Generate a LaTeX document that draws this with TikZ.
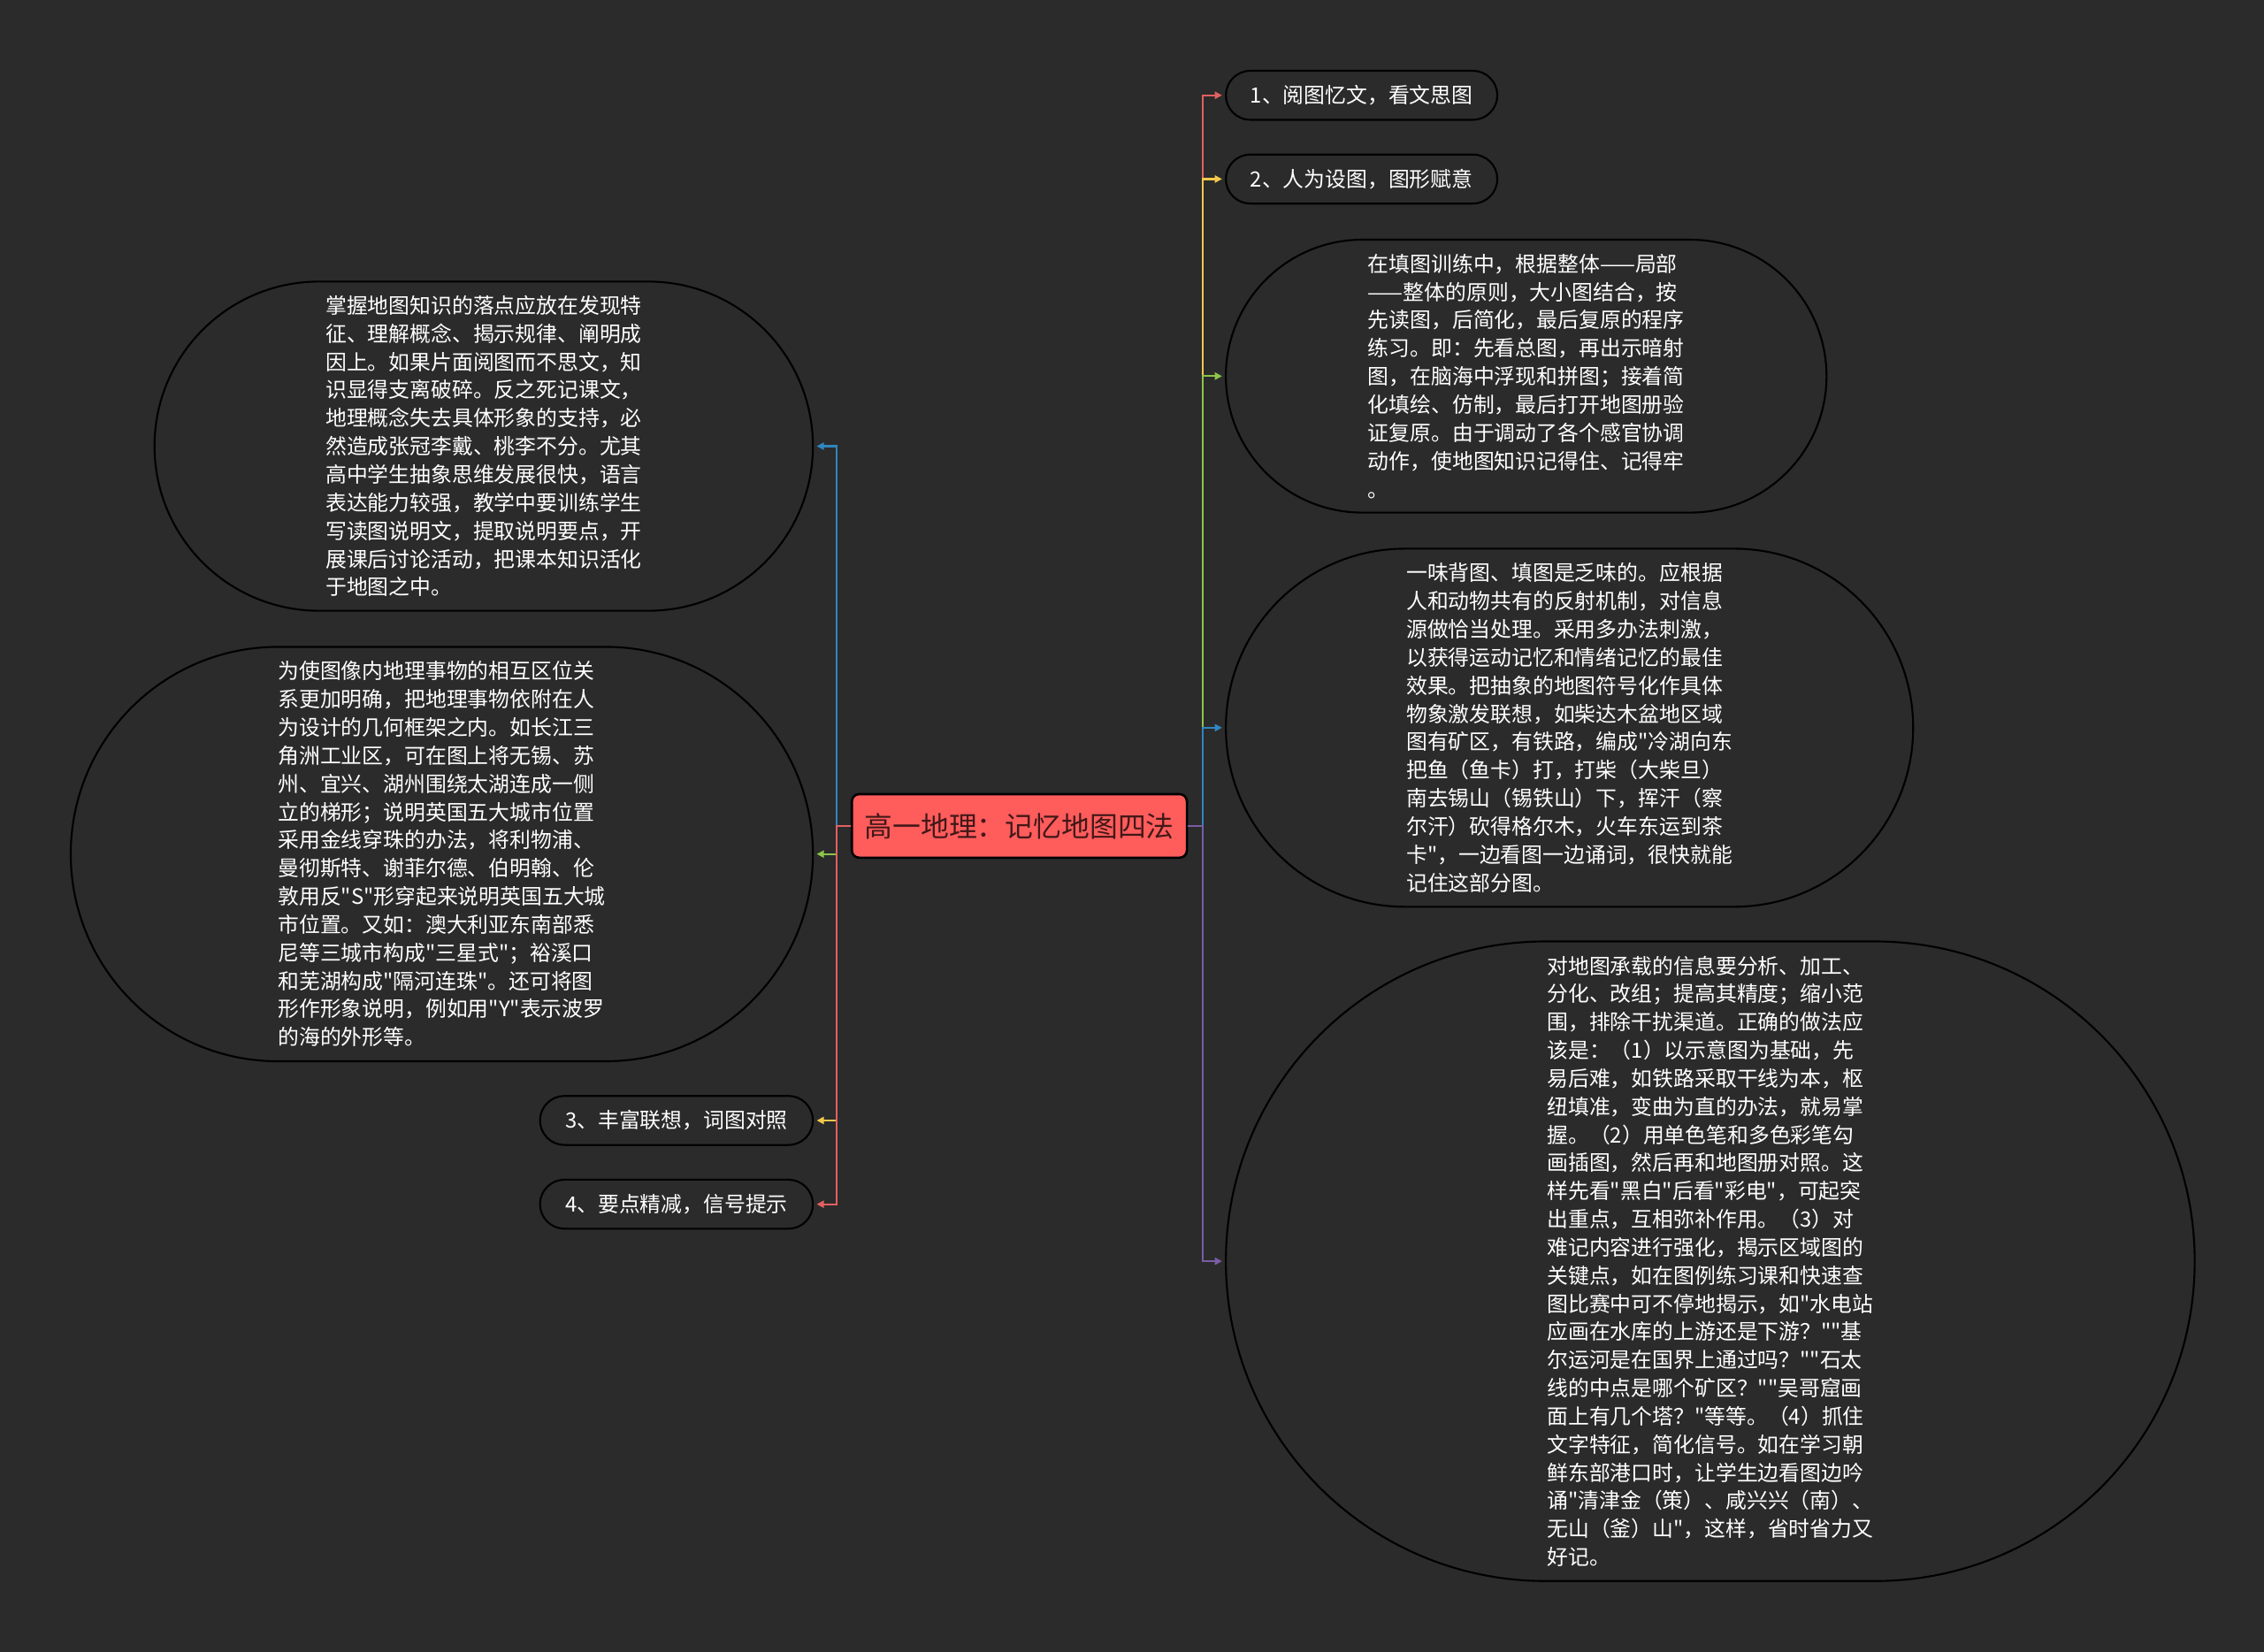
\documentclass[tikz,border=0pt]{standalone}
\usepackage{fontspec}
\newfontfamily\cjk{Noto Sans CJK SC}
\usetikzlibrary{arrows.meta,shapes.misc}
\definecolor{bg}{RGB}{43,43,43}
\definecolor{cred}{RGB}{255,92,92}
\definecolor{ctext}{RGB}{66,24,24}
\definecolor{lred}{RGB}{226,96,96}
\definecolor{lyellow}{RGB}{242,200,76}
\definecolor{lgreen}{RGB}{140,196,74}
\definecolor{lblue}{RGB}{48,134,192}
\definecolor{lpurple}{RGB}{122,92,164}
\tikzset{
  pill/.style={rounded rectangle, draw=black, line width=1.3pt, fill=bg, inner sep=0pt,
    text=white, align=left, font={\cjk\fontsize{14.6}{19.5}\selectfont}},
  centernode/.style={rectangle, rounded corners=5pt, draw=black, line width=1.6pt, fill=cred,
    text=ctext, minimum width=232pt, minimum height=44pt, inner sep=0pt,
    font={\cjk\fontsize{19.5}{24}\selectfont}},
  conn/.style={line width=1.4pt, -{Triangle[length=5pt,width=5pt]}, shorten >=2pt}
}
\begin{document}
\begin{tikzpicture}[x=1pt,y=-1pt]
\useasboundingbox (0,0) rectangle (1568,1144);
\fill[bg] (0,0) rectangle (1568,1144);

\node[centernode] (c) at (706,572) {高一地理：记忆地图四法};

% right side
\node[pill, minimum width=188pt, minimum height=34pt] (r1) at (943,66) {1、阅图忆文，看文思图};
\node[pill, minimum width=188pt, minimum height=34pt] (r2) at (943,124) {2、人为设图，图形赋意};
\node[pill, minimum width=416pt, minimum height=189pt] (r3) at (1057,260.5) {在填图训练中，根据整体——局部\\——整体的原则，大小图结合，按\\先读图，后简化，最后复原的程序\\练习。即：先看总图，再出示暗射\\图，在脑海中浮现和拼图；接着简\\化填绘、仿制，最后打开地图册验\\证复原。由于调动了各个感官协调\\动作，使地图知识记得住、记得牢\\。};
\node[pill, minimum width=476pt, minimum height=248pt] (r4) at (1087,504) {一味背图、填图是乏味的。应根据\\人和动物共有的反射机制，对信息\\源做恰当处理。采用多办法刺激，\\以获得运动记忆和情绪记忆的最佳\\效果。把抽象的地图符号化作具体\\物象激发联想，如柴达木盆地区域\\图有矿区，有铁路，编成"冷湖向东\\把鱼（鱼卡）打，打柴（大柴旦）\\南去锡山（锡铁山）下，挥汗（察\\尔汗）砍得格尔木，火车东运到茶\\卡"，一边看图一边诵词，很快就能\\记住这部分图。};
\node[pill, minimum width=671pt, minimum height=443pt] (r5) at (1184.5,873.5) {对地图承载的信息要分析、加工、\\分化、改组；提高其精度；缩小范\\围，排除干扰渠道。正确的做法应\\该是：（1）以示意图为基础，先\\易后难，如铁路采取干线为本，枢\\纽填准，变曲为直的办法，就易掌\\握。（2）用单色笔和多色彩笔勾\\画插图，然后再和地图册对照。这\\样先看"黑白"后看"彩电"，可起突\\出重点，互相弥补作用。（3）对\\难记内容进行强化，揭示区域图的\\关键点，如在图例练习课和快速查\\图比赛中可不停地揭示，如"水电站\\应画在水库的上游还是下游？""基\\尔运河是在国界上通过吗？""石太\\线的中点是哪个矿区？""吴哥窟画\\面上有几个塔？"等等。（4）抓住\\文字特征，简化信号。如在学习朝\\鲜东部港口时，让学生边看图边吟\\诵"清津金（策）、咸兴兴（南）、\\无山（釜）山"，这样，省时省力又\\好记。};

% left side
\node[pill, minimum width=456pt, minimum height=228pt] (l1) at (335,309) {掌握地图知识的落点应放在发现特\\征、理解概念、揭示规律、阐明成\\因上。如果片面阅图而不思文，知\\识显得支离破碎。反之死记课文，\\地理概念失去具体形象的支持，必\\然造成张冠李戴、桃李不分。尤其\\高中学生抽象思维发展很快，语言\\表达能力较强，教学中要训练学生\\写读图说明文，提取说明要点，开\\展课后讨论活动，把课本知识活化\\于地图之中。};
\node[pill, minimum width=514pt, minimum height=287pt] (l2) at (306,591.5) {为使图像内地理事物的相互区位关\\系更加明确，把地理事物依附在人\\为设计的几何框架之内。如长江三\\角洲工业区，可在图上将无锡、苏\\州、宜兴、湖州围绕太湖连成一侧\\立的梯形；说明英国五大城市位置\\采用金线穿珠的办法，将利物浦、\\曼彻斯特、谢菲尔德、伯明翰、伦\\敦用反"S"形穿起来说明英国五大城\\市位置。又如：澳大利亚东南部悉\\尼等三城市构成"三星式"；裕溪口\\和芜湖构成"隔河连珠"。还可将图\\形作形象说明，例如用"Y"表示波罗\\的海的外形等。};
\node[pill, minimum width=189pt, minimum height=34pt] (l3) at (468.5,776) {3、丰富联想，词图对照};
\node[pill, minimum width=189pt, minimum height=34pt] (l4) at (468.5,834) {4、要点精减，信号提示};

% connectors right
\draw[conn, lred]    (c.east) -- ++(10,0) |- (r1.west);
\draw[conn, lyellow] (c.east) -- ++(10,0) |- (r2.west);
\draw[conn, lgreen]  (c.east) -- ++(10,0) |- (r3.west);
\draw[conn, lblue]   (c.east) -- ++(10,0) |- (r4.west);
\draw[conn, lpurple] (c.east) -- ++(10,0) |- (r5.west);

% connectors left
\draw[conn, lblue]   (c.west) -- ++(-10,0) |- (l1.east);
\draw[conn, lgreen]  (c.west) -- ++(-10,0) |- (l2.east);
\draw[conn, lyellow] (c.west) -- ++(-10,0) |- (l3.east);
\draw[conn, lred]    (c.west) -- ++(-10,0) |- (l4.east);
\end{tikzpicture}
\end{document}
